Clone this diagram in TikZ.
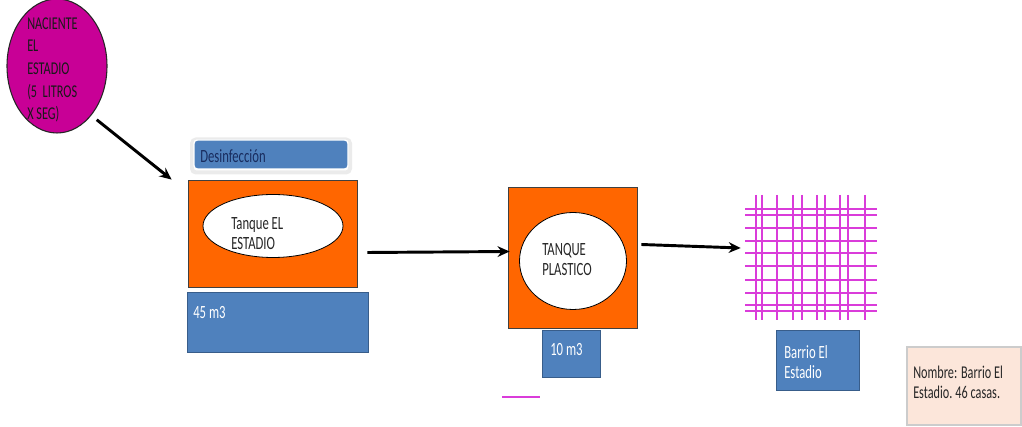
\documentclass[tikz,border=0pt]{standalone}
\usepackage{fontspec}
\setmainfont[FakeStretch=0.68]{Carlito}
\usetikzlibrary{shapes.geometric,arrows.meta,calc}
\definecolor{mag}{RGB}{200,0,150}
\definecolor{org}{RGB}{255,102,0}
\definecolor{blu}{RGB}{79,129,189}
\definecolor{bluD}{RGB}{56,93,138}
\definecolor{gridc}{RGB}{218,60,218}
\definecolor{peach}{RGB}{252,230,218}
\definecolor{navy}{RGB}{25,45,95}
\def\pxu{0.75pt}
\begin{document}
\begin{tikzpicture}[x=0.75pt,y=-0.75pt,
  font=\fontsize{14}{15}\selectfont,
  arr/.style={line width=2.2pt,-{Stealth[length=9pt,width=8pt]}},
  tankbox/.style={draw=black!75,fill=org,line width=0.6pt,inner sep=0pt},
  bluebox/.style={draw=bluD,fill=blu,line width=0.6pt,inner sep=0pt},
  inner/.style={ellipse,draw=black,fill=white,line width=0.6pt,inner sep=0pt},
  lbl/.style={anchor=west,align=left,inner sep=0pt,text=black!85},
  wlbl/.style={anchor=west,align=left,inner sep=0pt,text=white},
  gridline/.style={draw=gridc,line width=1.2pt}]
\useasboundingbox (0,0) rectangle (1022,427);

% Naciente
\node[ellipse,draw=black!85,fill=mag,line width=0.8pt,inner sep=0pt,
  minimum width=100*\pxu,minimum height=134*\pxu] (nac) at (57,66) {};
\node[lbl,text=black!90,font=\fontsize{13.5}{17}\selectfont] (nact) at (27,70)
  {NACIENTE\\EL\\ESTADIO\\(5~ LITROS\\X SEG)};

% Desinfeccion
\node[rounded corners=3pt,draw=black!8,line width=3pt,
  minimum width=158*\pxu,minimum height=33*\pxu] (desh) at (271,156) {};
\node[bluebox,rounded corners=2.5pt,draw=white,line width=1pt,
  minimum width=154*\pxu,minimum height=29*\pxu] (des) at (271,154.5) {};
\node[lbl,text=navy] (dest) at (200,156) {Desinfección};

% Tanque El Estadio
\node[tankbox,minimum width=169*\pxu,minimum height=107*\pxu] (t1) at (272.5,233.5) {};
\node[inner,minimum width=140*\pxu,minimum height=63*\pxu] (e1) at (273,226) {};
\node[lbl] (e1t) at (231,234) {Tanque EL\\ESTADIO};
\node[bluebox,minimum width=181*\pxu,minimum height=60*\pxu] (v1) at (277.5,322) {};
\node[wlbl] (v1t) at (193,313) {45 m3};

% Tanque plastico
\node[tankbox,minimum width=129*\pxu,minimum height=141*\pxu] (t2) at (572.5,257.5) {};
\node[inner,minimum width=107*\pxu,minimum height=97*\pxu] (c2) at (573,261) {};
\node[lbl] (c2t) at (542,260) {TANQUE\\PLASTICO};
\node[bluebox,minimum width=58*\pxu,minimum height=47*\pxu] (v2) at (571,353.5) {};
\node[wlbl] (v2t) at (550,350) {10 m3};
\draw[draw=gridc,line width=1pt] (502,397) -- (540,397);

% Grid (barrio)
\node[inner sep=0pt,minimum width=132*\pxu,minimum height=125*\pxu] (grid) at (811,257.5) {};
\foreach \xx in {756,762,777,793,802,817,825,840,848,865}
  \draw[gridline] (\xx,195) -- (\xx,320);
\foreach \yy in {209,215,228,241,253,266,280,293,305,311}
  \draw[gridline] (745,\yy) -- (877,\yy);
\node[bluebox,minimum width=83*\pxu,minimum height=60*\pxu] (bar) at (817.5,360) {};
\node[wlbl] (bart) at (784,362) {Barrio El\\Estadio};

% Nombre
\node[draw=black!20,fill=peach,line width=0.8pt,inner sep=0pt,
  minimum width=114*\pxu,minimum height=78*\pxu] (nom) at (964,386) {};
\node[lbl,text=black!85,font=\fontsize{13.5}{15}\selectfont] (nomt) at (913,382) {Nombre: Barrio El\\Estadio.\,46 casas.};

% Arrows
\coordinate (a1e) at ($(t1.north west)+(-16,0)$);
\draw[arr] (nac.south east)++(4,6) -- (a1e);
\draw[arr] ($(t1.east)+(10,19)$) -- ($(t2.west)+(2,-6)$);
\draw[arr] ($(t2.east)+(4,-13)$) -- ($(grid.west)+(-4,-9.5)$);
\end{tikzpicture}
\end{document}
